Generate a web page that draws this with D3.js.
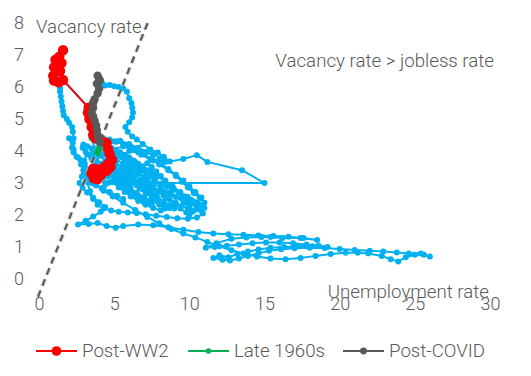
<!DOCTYPE html>
<html><head><meta charset="utf-8">
<script src="https://cdn.jsdelivr.net/npm/d3@7"></script>
<style>
html,body{margin:0;padding:0;background:#fff;}
text{font-family:Roboto,"Open Sans",sans-serif;font-weight:300;fill:#595959;}
</style></head>
<body><svg id="c" width="531" height="376"></svg>
<script>
const xTicks=[0,5,10,15,20,25,30];
const yTicks=[0,1,2,3,4,5,6,7,8];
const seriesNames=["Post-WW2","Late 1960s","Post-COVID"];
const seriesColors=["#FF0000","#00B050","#595959"];
// reference line, as drawn
const refLine=[[-0.07,-0.56],[7.25,8.03]];
// [unemployment rate, vacancy rate]
const hist1919=[[2.0,4.4],[2.3,4.05],[2.6,3.8],[2.8,3.58],[3.0,3.3],[3.2,3.02],[3.4,2.74],[3.6,2.5],[3.9,2.32],[4.3,2.2],[4.8,2.14],[5.3,2.1],[5.9,2.08],[6.5,2.06],[7.1,2.02],[7.8,1.98],[8.5,1.94],[9.2,1.9],[9.9,1.88],[10.5,1.92],[10.9,2.05],[11.0,2.22],[10.6,2.34],[10.0,2.44],[9.4,2.54],[8.8,2.64],[8.2,2.74],[7.6,2.84],[7.0,2.94],[6.4,3.04],[5.8,3.14],[5.2,3.24],[4.6,3.32],[4.1,3.36],[3.7,3.3],[3.4,3.15],[3.7,2.98],[4.2,2.84],[4.7,2.72],[5.2,2.6],[5.6,2.5],[5.2,2.58],[4.7,2.7],[4.2,2.82],[3.8,2.92],[3.5,3.0],[3.3,3.2],[3.1,3.45],[3.0,3.7],[3.2,3.9],[3.5,3.75],[3.8,3.55],[4.1,3.4],[4.5,3.2],[4.9,3.02],[5.3,2.86],[5.7,2.72],[6.1,2.58],[6.6,2.44],[7.1,2.32],[7.6,2.22],[8.1,2.14],[8.4,2.2],[8.0,2.32],[7.5,2.44],[7.0,2.56],[6.5,2.7],[6.0,2.84],[5.5,2.98],[5.0,3.1],[4.6,3.0],[4.3,2.76]];
const hist1930=[[4.9,2.58],[5.6,2.38],[6.4,2.16],[7.2,1.94],[8.0,1.74],[8.8,1.56],[9.6,1.42],[10.4,1.3],[11.2,1.16],[12.0,1.02],[12.8,0.9],[13.6,0.8],[14.5,0.7],[15.4,0.64],[16.4,0.62],[17.4,0.66],[18.4,0.72],[19.4,0.78],[20.4,0.82],[21.2,0.82],[21.9,0.8],[22.8,0.72],[23.4,0.62],[23.9,0.55],[24.4,0.68],[25.0,0.76],[25.6,0.76],[26.0,0.7],[25.4,0.8],[24.6,0.8],[23.8,0.83],[22.9,0.86],[22.0,0.88],[21.0,0.91],[20.0,0.94],[19.0,0.97],[18.0,0.98],[17.0,0.96],[16.1,0.93],[15.3,0.88],[14.6,0.8],[13.9,0.72],[13.3,0.64],[12.7,0.58],[12.2,0.6],[11.6,0.66],[12.0,0.74],[12.6,0.68],[13.2,0.78],[13.9,0.86],[14.6,0.92],[15.4,0.98],[16.3,1.0],[17.2,1.02],[18.2,1.02],[19.2,1.0],[18.6,1.04],[17.8,1.08],[16.9,1.12],[16.0,1.14],[15.1,1.14],[14.2,1.12],[13.3,1.08],[12.5,1.04],[11.7,1.0],[11.1,0.98],[11.8,1.12],[12.8,1.26],[13.8,1.3],[14.8,1.31],[15.4,1.31],[16.2,1.28],[17.4,1.28],[18.5,1.22],[17.6,1.28],[16.6,1.32],[15.6,1.34],[14.6,1.36],[13.6,1.38],[12.6,1.4],[11.6,1.42],[10.6,1.47],[9.6,1.54],[8.6,1.62],[7.6,1.68],[6.6,1.7],[5.6,1.66],[5.1,1.6],[4.5,1.66],[3.9,1.75],[3.3,1.72],[2.6,1.7],[3.1,1.82],[3.6,1.95],[4.1,2.1],[4.4,2.25],[4.0,2.4],[3.6,2.55],[3.2,2.7],[2.9,2.85],[2.7,3.0],[2.85,3.2],[2.95,3.4],[3.05,3.6],[2.75,3.72],[2.5,3.82],[2.3,3.95],[2.2,4.1],[2.25,4.25],[2.3,4.4],[2.25,4.6],[2.2,4.75],[2.0,4.88],[1.85,5.0],[1.65,5.12],[1.6,5.25],[1.55,5.4],[1.5,5.55],[1.45,5.7],[1.4,5.85],[1.4,5.97],[1.35,6.1]];
const red=[[1.3,6.15],[1.0,6.2],[0.95,6.35],[1.2,6.5],[1.0,6.62],[1.1,6.85],[1.35,6.95],[1.6,7.15],[1.5,6.75],[1.4,6.5],[1.6,6.22],[3.3,5.35],[3.25,5.2],[3.35,5.0],[3.5,4.75],[3.6,4.5],[3.75,4.4],[4.2,4.3],[4.5,4.25],[4.6,4.05],[4.7,3.9],[4.85,3.72],[4.75,3.5],[4.5,3.38],[4.2,3.32],[3.9,3.42],[3.6,3.45],[3.5,3.3],[3.65,3.15],[3.9,3.12],[4.1,3.25],[4.35,3.5],[4.6,3.6]];
const hist1949=[[4.9,3.5],[5.3,3.35],[5.7,3.2],[6.1,3.05],[6.5,2.92],[6.9,2.8],[7.3,2.7],[7.7,2.6],[7.5,2.75],[7.1,2.9],[6.7,3.05],[6.3,3.2],[5.9,3.35],[5.5,3.5],[5.1,3.65],[4.7,3.78],[4.3,3.9],[3.9,4.0],[3.5,4.08],[3.2,4.15],[2.95,4.2],[2.9,4.1],[3.1,3.98],
[3.4,3.85],[3.8,3.7],[4.2,3.55],[4.6,3.4],[5.0,3.25],[5.4,3.1],[5.8,2.95],[6.1,2.82],[5.9,2.95],[5.6,3.08],[5.2,3.22],[4.8,3.36],[4.4,3.5],[4.1,3.6],
[4.4,3.45],[4.8,3.3],[5.2,3.14],[5.6,2.98],[6.0,2.82],[6.4,2.68],[6.8,2.54],[7.2,2.42],[7.5,2.3],[7.3,2.4],[6.9,2.52],[6.5,2.64],[6.1,2.76],[5.7,2.9],[5.4,3.0],[5.2,3.08],
[5.6,2.9],[6.0,2.74],[6.4,2.6],[6.8,2.46],[7.0,2.38],[6.7,2.5],[6.3,2.62],[5.9,2.74],[5.6,2.86],[5.3,2.98],[5.0,3.1],[4.7,3.24],[4.4,3.38],[4.1,3.52],[3.8,3.66],[3.6,3.78],[3.5,3.9],[3.6,4.0],[3.8,4.08]];
const green=[[3.8,3.95],[3.9,4.05],[4.0,4.15],[4.05,4.05],[3.95,3.9]];
const hist1970=[[4.1,3.85],[4.4,3.7],[4.8,3.52],[5.2,3.36],[5.6,3.2],[5.9,3.08],[6.1,2.98],[5.9,3.1],[5.6,3.22],[5.3,3.36],[5.0,3.5],[4.8,3.62],
[5.1,3.5],[5.5,3.34],[5.9,3.18],[6.3,3.0],[6.7,2.84],[7.1,2.68],[7.5,2.54],[7.9,2.42],[8.3,2.3],[8.7,2.22],[9.0,2.2],[8.7,2.3],[8.3,2.42],[7.9,2.54],[7.5,2.68],[7.1,2.82],[6.7,2.98],[6.3,3.14],[6.0,3.28],[5.8,3.42],[5.7,3.55],
[6.0,3.42],[6.4,3.26],[6.8,3.12],[7.2,3.0],[7.5,2.9],[7.3,2.98],[7.5,2.86],[7.9,2.72],[8.3,2.6],[8.7,2.48],[9.1,2.38],[9.5,2.28],[9.9,2.2],[10.3,2.14],[10.7,2.16],[10.8,2.28],[10.5,2.38],[10.1,2.48],[9.7,2.58],[9.3,2.68],[8.9,2.78],[8.5,2.88],[8.1,2.98],[7.7,3.08],[7.4,3.2],[7.1,3.32],[6.8,3.44],[6.5,3.54],[6.2,3.62],[5.9,3.7],[5.6,3.78],[5.3,3.86],[5.1,3.95],
[5.3,3.9],[5.6,3.8],[5.9,3.7],[6.2,3.6],[6.5,3.5],[6.8,3.4],[7.1,3.3],[7.4,3.2],[7.7,3.12],[7.8,3.2],[7.5,3.3],[7.2,3.4],[6.9,3.5],[6.6,3.6],[6.3,3.7],[6.0,3.8],[5.7,3.88],[5.4,3.96],[5.1,4.04],[4.8,4.1],[4.5,4.16],[4.2,4.22],[3.9,4.3]];
const hist1992=[[4.6,3.9],[5.1,3.75],[5.6,3.6],[6.1,3.45],[6.6,3.3],[7.1,3.15],[7.6,3.0],[8.1,2.85],[8.6,2.7],[9.1,2.56],[9.6,2.44],[10.1,2.34],[10.5,2.26],[10.3,2.42],[9.9,2.56],[9.4,2.72],[8.9,2.88],[8.4,3.04],[7.9,3.2],[7.4,3.36],[6.9,3.52],[6.4,3.66],[5.9,3.8],[5.4,3.92],[4.9,4.04],
[5.6,4.15],[6.2,4.02],[6.8,3.88],[7.4,3.74],[8.0,3.58],[8.6,3.4],[9.1,3.22],[9.5,3.04],[9.9,2.86],[10.3,2.68],[10.7,2.52],[11.0,2.38],[10.8,2.55],[10.4,2.72],[10.0,2.9],[9.6,3.08],[9.1,3.26],[8.6,3.44],[8.1,3.6],[7.5,3.76],[6.9,3.9],[6.3,4.04],[5.7,4.18],[5.2,4.3]];
const hist2001=[[4.2,4.22],[4.5,4.12],[4.8,4.02],[5.1,3.92],[5.4,3.82],[5.7,3.72],[6.0,3.64],[6.1,3.7],[5.8,3.78],[5.5,3.86],[5.2,3.94],[4.9,4.02],[4.6,4.1],[4.4,4.2],[4.6,4.26],[5.0,4.3],[5.4,4.32],[6.0,4.22],[6.6,4.1],[7.2,3.98],
[6.6,3.95],[6.0,4.0],[5.5,3.82],[6.0,3.62],[6.5,3.4],[7.0,3.18],[7.5,2.96],[8.0,2.74],[8.5,2.54],[9.0,2.36],[9.4,2.2],[9.8,2.08],[10.0,2.0],[10.2,2.1],[10.0,2.24],[9.8,2.38],[9.6,2.52],[9.3,2.66],[9.0,2.8],[8.7,2.94],[8.4,3.08],[8.1,3.22],[7.8,3.36],[7.5,3.5],[7.2,3.62],[7.6,3.7],[8.0,3.72],[8.4,3.66],[8.1,3.78],[7.6,3.88],[7.1,3.96],[6.6,4.06],[6.1,4.14],[5.6,4.22],[5.1,4.3],[4.7,4.36],[4.3,4.4],[3.9,4.44],[3.6,4.46],[3.5,4.4]];
const hist2020=[[4.4,3.0],[15.0,3.0],[13.5,3.4],[11.2,3.66],[10.5,3.87],[9.6,3.75],[8.7,3.67],[8.3,3.82],[7.9,3.95],[7.4,4.05],[6.9,4.22],[6.5,4.36],[6.2,4.45],[5.9,4.6],[5.75,4.75],[6.0,4.9],[6.2,5.05],[6.25,5.2],[6.2,5.35],[6.15,5.5],[6.0,5.65],[5.85,5.85],[5.6,5.95],[5.3,6.0],[5.0,6.02],[4.7,6.06],[4.4,6.05],[4.2,6.12],[4.0,6.25]];
const gray=[[4.0,6.25],[3.9,6.35],[4.05,6.2],[3.85,6.1],[4.0,5.95],[3.9,5.8],[3.7,5.62],[3.6,5.5],[3.6,5.35],[3.5,5.2],[3.6,5.08],[3.7,4.95],[3.8,4.8],[3.85,4.65],[3.9,4.5],[3.95,4.38],[4.05,4.28]];
const blue=[...hist1919,...hist1930,...red,...hist1949,...green,...hist1970,...hist1992,...hist2001,...hist2020,...gray];

const svg=d3.select("#c");
const x=d3.scaleLinear().domain([0,30]).range([39,490]);
const y=d3.scaleLinear().domain([0,8]).range([279,23]);
const line=d3.line().x(d=>x(d[0])).y(d=>y(d[1]));

const xa=svg.append("g").attr("transform","translate(0,291)")
 .call(d3.axisBottom(x).tickValues(xTicks).tickSize(0).tickPadding(6));
xa.select(".domain").remove();
xa.selectAll("text").attr("font-size",18).attr("fill","#595959");
const ya=svg.append("g").attr("transform","translate(19,0)")
 .call(d3.axisLeft(y).tickValues(yTicks).tickSize(0).tickPadding(0));
ya.select(".domain").remove();
ya.selectAll("text").attr("font-size",18).attr("text-anchor","middle").attr("fill","#595959");
svg.selectAll(".tick text").style("font-family","Roboto").style("font-weight",300);

function series(data,color,r,w){
  const g=svg.append("g");
  g.append("path").datum(data).attr("d",line).attr("fill","none").attr("stroke",color).attr("stroke-width",w).attr("stroke-linejoin","round");
  g.selectAll("circle").data(data).join("circle").attr("cx",d=>x(d[0])).attr("cy",d=>y(d[1])).attr("r",r).attr("fill",color);
}
series(blue,"#00B0F0",3.0,2);
svg.append("path").datum(refLine).attr("d",line).attr("stroke","#cfcfcf").attr("stroke-width",5).attr("stroke-dasharray","7,5").attr("fill","none").attr("opacity",0.5);
svg.append("path").datum(refLine).attr("d",line).attr("stroke","#595959").attr("stroke-width",2.2).attr("stroke-dasharray","7,5").attr("fill","none");
series(red,"#FF0000",5.2,1.8);
series(green,"#00B050",2.4,2);
series(gray,"#595959",4.2,2.2);

svg.append("text").attr("x",36).attr("y",33).attr("font-size",18.7).text("Vacancy rate");
svg.append("text").attr("x",489).attr("y",298).attr("text-anchor","end").attr("font-size",18.7).text("Unemployment rate");
svg.append("text").attr("x",494).attr("y",67).attr("text-anchor","end").attr("font-size",18.7).text("Vacancy rate > jobless rate");

const lx=[36,188,343], rs=[4.8,2.7,3.4];
seriesNames.forEach((n,i)=>{
  const g=svg.append("g");
  g.append("line").attr("x1",lx[i]).attr("x2",lx[i]+41).attr("y1",351).attr("y2",351).attr("stroke",seriesColors[i]).attr("stroke-width",2.2);
  g.append("circle").attr("cx",lx[i]+20.5).attr("cy",351).attr("r",rs[i]).attr("fill",seriesColors[i]);
  g.append("text").attr("x",lx[i]+46).attr("y",357).attr("font-size",18.7).text(n);
});
</script></body></html>
